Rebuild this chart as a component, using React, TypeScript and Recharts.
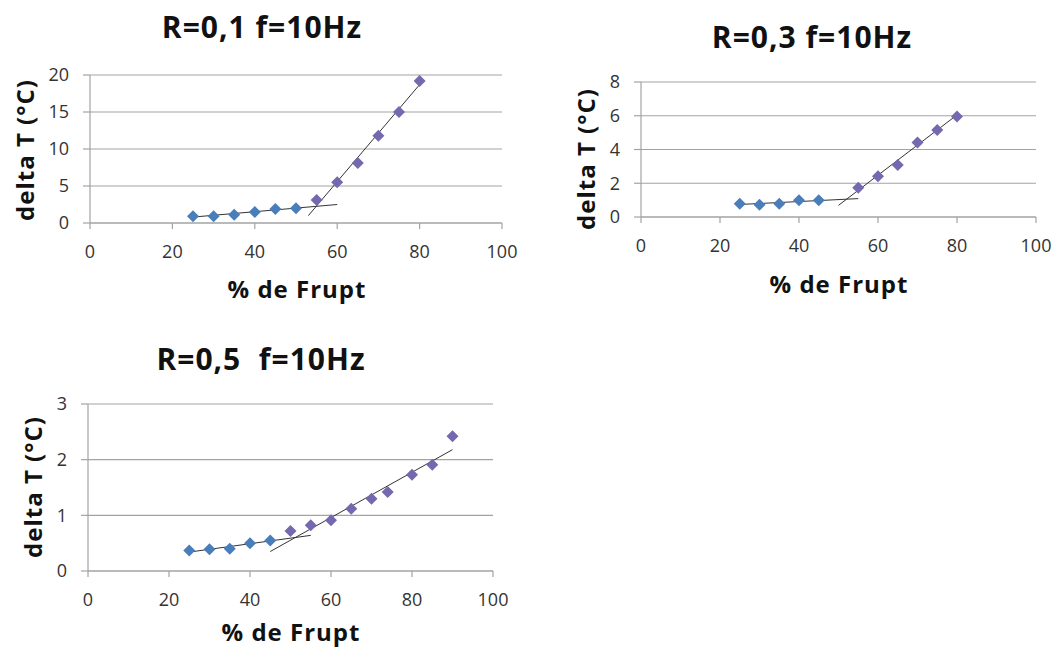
import React from 'react';
import { ScatterChart, Scatter, XAxis, YAxis, CartesianGrid } from 'recharts';

// ---------- data ----------
const xTicks = [0, 20, 40, 60, 80, 100];

// Chart 1: R=0,1
const c1BlueX = [25, 30, 35, 40, 45, 50];
const c1BlueY = [0.9, 0.9, 1.1, 1.5, 1.9, 2.0];
const c1PurpleX = [55, 60, 65, 70, 75, 80];
const c1PurpleY = [3.1, 5.5, 8.1, 11.8, 15.0, 19.2];
const c1Trend1X = [25, 60];
const c1Trend1Y = [0.8, 2.5];
const c1Trend2X = [53, 80];
const c1Trend2Y = [1.0, 18.7];
const c1YTicks = [0, 5, 10, 15, 20];

// Chart 2: R=0,3
const c2BlueX = [25, 30, 35, 40, 45];
const c2BlueY = [0.79, 0.73, 0.79, 0.99, 0.99];
const c2PurpleX = [55, 60, 65, 70, 75, 80];
const c2PurpleY = [1.73, 2.42, 3.08, 4.41, 5.16, 5.95];
const c2Trend1X = [24, 55];
const c2Trend1Y = [0.73, 1.09];
const c2Trend2X = [50, 80];
const c2Trend2Y = [0.69, 6.05];
const c2YTicks = [0, 2, 4, 6, 8];

// Chart 3: R=0,5
const c3BlueX = [25, 30, 35, 40, 45];
const c3BlueY = [0.37, 0.39, 0.4, 0.5, 0.55];
const c3PurpleX = [50, 55, 60, 65, 70, 74, 80, 85, 90];
const c3PurpleY = [0.72, 0.82, 0.91, 1.12, 1.3, 1.42, 1.73, 1.91, 2.42];
const c3Trend1X = [26, 55];
const c3Trend1Y = [0.35, 0.64];
const c3Trend2X = [45, 90];
const c3Trend2Y = [0.35, 2.18];
const c3YTicks = [0, 1, 2, 3];

const titles = ['R=0,1 f=10Hz', 'R=0,3 f=10Hz', 'R=0,5  f=10Hz'];
const xLabel = '% de Frupt';
const yLabel = 'delta T (°C)';

// ---------- helpers ----------
const zip = (xs: number[], ys: number[]) => xs.map((x, i) => ({ x, y: ys[i] }));

const BLUE = '#4A7EBB';
const PURPLE = '#7469AE';
const GRID = '#a3a3a3';
const FONT = '"Open Sans", sans-serif';

const Diamond = (props: any) => {
  const { cx, cy, fill } = props;
  if (cx == null || cy == null) return null;
  const r = 6;
  return (
    <polygon
      points={`${cx},${cy - r} ${cx + r},${cy} ${cx},${cy + r} ${cx - r},${cy}`}
      fill={fill}
    />
  );
};

const NoShape = () => null;

type PanelProps = {
  plotLeft: number;
  plotTop: number;
  plotW: number;
  plotH: number;
  yMax: number;
  yTicks: number[];
  blue: { x: number; y: number }[];
  purple: { x: number; y: number }[];
  trend1: { x: number; y: number }[];
  trend2: { x: number; y: number }[];
};

const Panel = ({ plotLeft, plotTop, plotW, plotH, yMax, yTicks, blue, purple, trend1, trend2 }: PanelProps) => {
  const yAxisW = 60;
  const xAxisH = 40;
  const mTop = 20;
  const mRight = 30;
  const width = plotW + yAxisW + mRight;
  const height = plotH + mTop + xAxisH;
  return (
    <div style={{ position: 'absolute', left: plotLeft - yAxisW, top: plotTop - mTop }}>
      <ScatterChart width={width} height={height} margin={{ top: mTop, right: mRight, left: 0, bottom: 0 }}>
        <CartesianGrid vertical={false} horizontal stroke={GRID} strokeWidth={1.2} />
        <XAxis
          type="number"
          dataKey="x"
          domain={[0, 100]}
          ticks={xTicks}
          interval={0}
          height={xAxisH}
          axisLine={{ stroke: GRID, strokeWidth: 1.2 }}
          tickLine={{ stroke: GRID, strokeWidth: 1.2 }}
          tickSize={6}
          tickMargin={16}
          tick={{ fill: '#333', fontSize: 18, fontFamily: FONT }}
          allowDataOverflow
        />
        <YAxis
          type="number"
          dataKey="y"
          domain={[0, yMax]}
          ticks={yTicks}
          interval={0}
          width={yAxisW}
          axisLine={{ stroke: GRID, strokeWidth: 1.2 }}
          tickLine={{ stroke: GRID, strokeWidth: 1.2 }}
          tickSize={7}
          tickMargin={14}
          tick={{ fill: '#333', fontSize: 18, fontFamily: FONT }}
          allowDataOverflow
        />
        <Scatter data={trend1} fill="#333" line={{ stroke: '#333', strokeWidth: 1 }} shape={NoShape} isAnimationActive={false} />
        <Scatter data={trend2} fill="#333" line={{ stroke: '#333', strokeWidth: 1 }} shape={NoShape} isAnimationActive={false} />
        <Scatter data={blue} fill={BLUE} shape={Diamond} isAnimationActive={false} />
        <Scatter data={purple} fill={PURPLE} shape={Diamond} isAnimationActive={false} />
      </ScatterChart>
    </div>
  );
};

const titleStyle = { fontFamily: FONT, fontWeight: 700, fontSize: 30, letterSpacing: 1, fill: '#111', whiteSpace: 'pre' } as const;
const labelStyle = { fontFamily: FONT, fontWeight: 700, fontSize: 24, letterSpacing: 1, fill: '#111' } as const;

export default function App() {
  return (
    <div style={{ position: 'absolute', left: 0, top: 0, width: 1056, height: 649, background: '#fff', overflow: 'hidden' }}>
      <Panel
        plotLeft={90}
        plotTop={75}
        plotW={412}
        plotH={148}
        yMax={20}
        yTicks={c1YTicks}
        blue={zip(c1BlueX, c1BlueY)}
        purple={zip(c1PurpleX, c1PurpleY)}
        trend1={zip(c1Trend1X, c1Trend1Y)}
        trend2={zip(c1Trend2X, c1Trend2Y)}
      />
      <Panel
        plotLeft={641}
        plotTop={82}
        plotW={395}
        plotH={135}
        yMax={8}
        yTicks={c2YTicks}
        blue={zip(c2BlueX, c2BlueY)}
        purple={zip(c2PurpleX, c2PurpleY)}
        trend1={zip(c2Trend1X, c2Trend1Y)}
        trend2={zip(c2Trend2X, c2Trend2Y)}
      />
      <Panel
        plotLeft={88}
        plotTop={404}
        plotW={405}
        plotH={167}
        yMax={3}
        yTicks={c3YTicks}
        blue={zip(c3BlueX, c3BlueY)}
        purple={zip(c3PurpleX, c3PurpleY)}
        trend1={zip(c3Trend1X, c3Trend1Y)}
        trend2={zip(c3Trend2X, c3Trend2Y)}
      />
      <svg width={1056} height={649} style={{ position: 'absolute', left: 0, top: 0, pointerEvents: 'none' }}>
        <text x={262} y={38} textAnchor="middle" style={titleStyle}>{titles[0]}</text>
        <text x={812} y={48} textAnchor="middle" style={titleStyle}>{titles[1]}</text>
        <text x={261} y={370} textAnchor="middle" style={titleStyle}>{titles[2]}</text>

        <text x={297} y={298} textAnchor="middle" style={labelStyle}>{xLabel}</text>
        <text x={839} y={293} textAnchor="middle" style={labelStyle}>{xLabel}</text>
        <text x={291} y={641} textAnchor="middle" style={labelStyle}>{xLabel}</text>

        <text x={34} y={150} textAnchor="middle" transform="rotate(-90, 34, 150)" style={labelStyle}>{yLabel}</text>
        <text x={595} y={159} textAnchor="middle" transform="rotate(-90, 595, 159)" style={labelStyle}>{yLabel}</text>
        <text x={42} y={487} textAnchor="middle" transform="rotate(-90, 42, 487)" style={labelStyle}>{yLabel}</text>
      </svg>
    </div>
  );
}
